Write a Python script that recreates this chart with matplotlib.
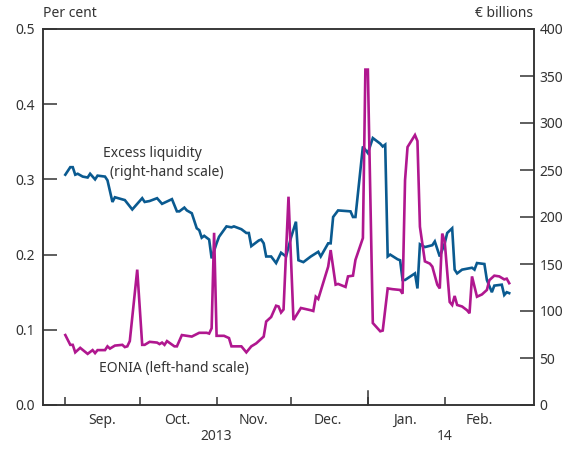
import numpy as np
import pandas as pd
import matplotlib
matplotlib.use("Agg")
import matplotlib.pyplot as plt
import matplotlib.dates as mdates
import matplotlib.transforms as mtrans

plt.rcParams['font.family'] = ['Noto Sans', 'DejaVu Sans']

# EONIA, per cent (left-hand scale)
eonia_dates = ['2013-09-01', '2013-09-03', '2013-09-04', '2013-09-05', '2013-09-07', '2013-09-10',
               '2013-09-12', '2013-09-13', '2013-09-14', '2013-09-17', '2013-09-18', '2013-09-19',
               '2013-09-21', '2013-09-24', '2013-09-25', '2013-09-26', '2013-09-27', '2013-09-30',
               '2013-10-02', '2013-10-03', '2013-10-05', '2013-10-08', '2013-10-09', '2013-10-10',
               '2013-10-11', '2013-10-12', '2013-10-15', '2013-10-16', '2013-10-18', '2013-10-20',
               '2013-10-22', '2013-10-25', '2013-10-28', '2013-10-29', '2013-10-30', '2013-10-31',
               '2013-11-01', '2013-11-04', '2013-11-06', '2013-11-07', '2013-11-11', '2013-11-13',
               '2013-11-15', '2013-11-17', '2013-11-20', '2013-11-21', '2013-11-23', '2013-11-25',
               '2013-11-26', '2013-11-27', '2013-11-28', '2013-11-30', '2013-12-02', '2013-12-05',
               '2013-12-09', '2013-12-10', '2013-12-11', '2013-12-12', '2013-12-16', '2013-12-17',
               '2013-12-19', '2013-12-20', '2013-12-23', '2013-12-24', '2013-12-26', '2013-12-27',
               '2013-12-30', '2013-12-31', '2014-01-01', '2014-01-03', '2014-01-06', '2014-01-07',
               '2014-01-09', '2014-01-11', '2014-01-14', '2014-01-15', '2014-01-16', '2014-01-17',
               '2014-01-20', '2014-01-21', '2014-01-22', '2014-01-24', '2014-01-26', '2014-01-27',
               '2014-01-29', '2014-01-30', '2014-01-31', '2014-02-01', '2014-02-03', '2014-02-04',
               '2014-02-05', '2014-02-06', '2014-02-08', '2014-02-10', '2014-02-11', '2014-02-12',
               '2014-02-14', '2014-02-16', '2014-02-18', '2014-02-19', '2014-02-21', '2014-02-23',
               '2014-02-25', '2014-02-26', '2014-02-27']
eonia = [0.093, 0.080, 0.080, 0.070, 0.076, 0.068,
         0.073, 0.069, 0.073, 0.073, 0.078, 0.075,
         0.079, 0.080, 0.077, 0.078, 0.085, 0.180,
         0.080, 0.080, 0.084, 0.083, 0.081, 0.083,
         0.080, 0.085, 0.078, 0.078, 0.093, 0.092,
         0.091, 0.096, 0.096, 0.095, 0.102, 0.229,
         0.092, 0.092, 0.089, 0.078, 0.078, 0.070,
         0.078, 0.082, 0.091, 0.111, 0.117, 0.132,
         0.131, 0.123, 0.127, 0.277, 0.113, 0.129,
         0.126, 0.125, 0.144, 0.141, 0.184, 0.206,
         0.160, 0.161, 0.157, 0.171, 0.172, 0.193,
         0.222, 0.446, 0.446, 0.109, 0.098, 0.099,
         0.155, 0.154, 0.153, 0.148, 0.299, 0.343,
         0.359, 0.351, 0.237, 0.191, 0.188, 0.184,
         0.160, 0.155, 0.228, 0.217, 0.137, 0.133,
         0.145, 0.133, 0.131, 0.126, 0.122, 0.171,
         0.144, 0.147, 0.153, 0.166, 0.172, 0.171,
         0.167, 0.168, 0.162]

# Excess liquidity, EUR billions (right-hand scale)
liq_dates = ['2013-09-01', '2013-09-03', '2013-09-04', '2013-09-05', '2013-09-06', '2013-09-08',
             '2013-09-10', '2013-09-11', '2013-09-13', '2013-09-14', '2013-09-17', '2013-09-18',
             '2013-09-20', '2013-09-21', '2013-09-25', '2013-09-28', '2013-09-30', '2013-10-02',
             '2013-10-03', '2013-10-05', '2013-10-08', '2013-10-10', '2013-10-14', '2013-10-16',
             '2013-10-17', '2013-10-19', '2013-10-20', '2013-10-22', '2013-10-24', '2013-10-25',
             '2013-10-26', '2013-10-27', '2013-10-29', '2013-10-30', '2013-11-01', '2013-11-02',
             '2013-11-05', '2013-11-07', '2013-11-08', '2013-11-11', '2013-11-13', '2013-11-14',
             '2013-11-15', '2013-11-18', '2013-11-19', '2013-11-20', '2013-11-21', '2013-11-23',
             '2013-11-25', '2013-11-27', '2013-11-29', '2013-12-01', '2013-12-03', '2013-12-04',
             '2013-12-06', '2013-12-09', '2013-12-12', '2013-12-13', '2013-12-16', '2013-12-17',
             '2013-12-18', '2013-12-20', '2013-12-25', '2013-12-26', '2013-12-27', '2013-12-30',
             '2014-01-01', '2014-01-03', '2014-01-06', '2014-01-07', '2014-01-08', '2014-01-09',
             '2014-01-10', '2014-01-13', '2014-01-14', '2014-01-15', '2014-01-16', '2014-01-20',
             '2014-01-21', '2014-01-22', '2014-01-24', '2014-01-27', '2014-01-28', '2014-01-30',
             '2014-02-01', '2014-02-02', '2014-02-04', '2014-02-05', '2014-02-06', '2014-02-08',
             '2014-02-10', '2014-02-12', '2014-02-13', '2014-02-14', '2014-02-17', '2014-02-18',
             '2014-02-20', '2014-02-21', '2014-02-24', '2014-02-25', '2014-02-26', '2014-02-27']
liquidity = [245, 253, 253, 245, 246, 243,
             242, 246, 240, 244, 243, 239,
             216, 221, 218, 208, 214, 220,
             216, 217, 220, 214, 219, 206,
             206, 210, 207, 204, 188, 186,
             178, 180, 176, 156, 172, 179,
             190, 189, 190, 187, 183, 183,
             169, 175, 176, 172, 158, 158,
             151, 162, 158, 178, 195, 154,
             152, 158, 163, 158, 172, 172,
             200, 207, 206, 200, 200, 275,
             268, 284, 278, 275, 277, 158,
             160, 155, 154, 133, 133, 140,
             124, 171, 168, 170, 174, 158,
             172, 183, 188, 144, 140, 144,
             145, 146, 144, 151, 150, 133,
             120, 127, 128, 117, 120, 119]

month_starts = ['2013-09-01', '2013-10-01', '2013-11-01', '2013-12-01', '2014-01-01', '2014-02-01']
month_mids = ['2013-09-16', '2013-10-16', '2013-11-16', '2013-12-16', '2014-01-16', '2014-02-15']
month_labels = ['Sep.', 'Oct.', 'Nov.', 'Dec.', 'Jan.', 'Feb.']
year_pos = ['2013-11-01', '2014-02-01']
year_labels = ['2013', '14']

blue = '#0a5a90'
magenta = '#b0178f'
grey = '#333333'

fig = plt.figure(figsize=(5.71, 4.5), dpi=100)
ax = fig.add_axes([43 / 571, 1 - 405 / 450, 491 / 571, 376 / 450])
ax2 = ax.twinx()
ax.set_zorder(ax2.get_zorder() + 1)
ax.patch.set_visible(False)

ax2.plot(pd.to_datetime(liq_dates), liquidity, color=blue, lw=1.9, solid_joinstyle='miter')
ax.plot(pd.to_datetime(eonia_dates), eonia, color=magenta, lw=1.9, solid_joinstyle='miter')

ax.set_ylim(0, 0.5)
ax2.set_ylim(0, 400)
ax.set_xlim(pd.Timestamp('2013-08-23'), pd.Timestamp('2014-03-09'))

ax.set_yticks(np.arange(0, 0.51, 0.1))
ax.set_yticklabels(['%.1f' % v for v in np.arange(0, 0.51, 0.1)])
ax2.set_yticks(np.arange(0, 401, 50))

for a in (ax, ax2):
    for s in a.spines.values():
        s.set_color(grey)
        s.set_linewidth(1.1)

ax.tick_params(axis='y', direction='in', length=10, width=1.1, color=grey,
               labelsize=10, labelcolor=grey, pad=6)
ax2.tick_params(axis='y', direction='in', length=10, width=1.1, color=grey,
                labelsize=10, labelcolor=grey, pad=4)

# month boundaries as major ticks, month names on minor ticks
ax.set_xticks(pd.to_datetime(month_starts))
ax.set_xticklabels([])
ax.set_xticks(pd.to_datetime(month_mids), minor=True)
ax.set_xticklabels(month_labels, minor=True)
ax.tick_params(axis='x', which='major', direction='in', length=6, width=1.1, color=grey)
ax.tick_params(axis='x', which='minor', length=0, labelsize=10, labelcolor=grey, pad=6)

# longer tick at the turn of the year
trans = mtrans.blended_transform_factory(ax.transData, ax.transAxes)
jan = mdates.date2num(pd.Timestamp('2014-01-01'))
ax.plot([jan, jan], [0, 0.037], transform=trans, color=grey, lw=1.1, clip_on=False)

for d, lab in zip(year_pos, year_labels):
    ax.text(mdates.date2num(pd.Timestamp(d)), -0.083, lab, transform=trans,
            ha='center', va='center', fontsize=10, color=grey)

ax.text(0, 1.02, 'Per cent', transform=ax.transAxes, ha='left', va='bottom',
        fontsize=10, color=grey)
ax.text(0.997, 1.02, '€ billions', transform=ax.transAxes, ha='right', va='bottom',
        fontsize=10, color=grey)

ax.text(mdates.date2num(pd.Timestamp('2013-10-06')), 0.334, 'Excess liquidity',
        ha='center', va='center', fontsize=10, color=grey)
ax.text(mdates.date2num(pd.Timestamp('2013-10-12')), 0.309, '(right-hand scale)',
        ha='center', va='center', fontsize=10, color=grey)
ax.text(mdates.date2num(pd.Timestamp('2013-10-15')), 0.049, 'EONIA (left-hand scale)',
        ha='center', va='center', fontsize=10, color=grey)

fig.savefig('out.png', dpi=100)
